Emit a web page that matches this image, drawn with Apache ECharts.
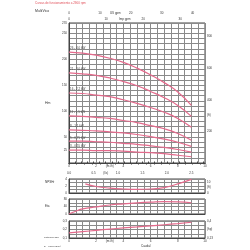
<!DOCTYPE html>
<html><head><meta charset="utf-8">
<script src="https://cdn.jsdelivr.net/npm/echarts@6/dist/echarts.min.js"></script>
<style>html,body{margin:0;padding:0;background:#fff}#c{width:250px;height:250px}</style>
</head><body><div id="c"></div>
<script>
// ---- data ----
const flowQ = [0, 1, 2, 3, 4, 5, 6, 7, 8, 9];
const curveNames = ['26 - 4,0 kW', '21 - 3,0 kW', '16 - 2,2 kW', '11 - 1,5 kW', '8 - 1,1 kW', '5 - 0,75 kW', '3 - 0,55 kW'];
const headC1 = [214, 212, 208, 202, 194, 183, 170, 155, 137, 111];
const headC2 = [174, 172, 169, 164, 157, 149, 138, 126, 111, 90];
const headC3 = [135, 134, 131, 128, 122, 115, 107, 98, 86, 69];
const headC4 = [91, 90, 88, 86, 82, 78, 72, 66, 57, 44];
const headC5 = [64, 63, 62, 60, 58, 55, 51, 46, 40, 32];
const headC6 = [42, 42, 41, 40, 38, 36, 33, 30, 26, 21];
const headC7 = [25, 25, 24, 24, 23, 21, 20, 18, 15, 12];
const npshQ = [1.2, 2, 3, 4, 5, 6, 7, 8, 9];
const npshVals = [2.6, 1.85, 1.4, 1.15, 1.05, 1.15, 1.55, 2.6, 3.9];
const etaQ = [0, 0.5, 1, 2, 3, 4, 5, 6, 7, 8, 9];
const etaVals = [0, 15, 27, 38, 48, 54, 59, 63, 66, 65, 60];
const powerQ = [0, 1, 2, 3, 4, 5, 6, 7, 8, 9];
const powerVals = [0.16, 0.175, 0.19, 0.205, 0.218, 0.23, 0.243, 0.256, 0.27, 0.285];
const headTicks = [25, 50, 100, 150, 200, 250, 270];
const ftTicks = [200, 400, 600, 800];
const flowTicks = [0, 2, 4, 6, 8, 10];
const lsTicks = [0, 0.5, 1, 1.5, 2, 2.5];
const usTicks = [0, 10, 20, 30, 40];
const impTicks = [0, 10, 20, 30];

const curves = [headC1, headC2, headC3, headC4, headC5, headC6, headC7];
const near = (v, arr) => arr.some(a => Math.abs(a - v) < 1e-6);
const GRID = '#8a8a8a', AX = '#444', TXT = '#333', CURVE = '#e46a8c';
const fs = 3;

const chart = echarts.init(document.getElementById('c'), null, {renderer: 'canvas'});
const lbl = (o) => Object.assign({fontSize: fs, color: TXT, fontFamily: 'Liberation Sans'}, o);

const xBase = (gi, extra) => Object.assign({
  type: 'value', gridIndex: gi, min: 0, max: 10, interval: 0.5,
  axisLine: {show: true, lineStyle: {color: AX, width: 1}},
  axisTick: {show: false},
  axisLabel: {show: false},
  splitLine: {show: true, lineStyle: {color: GRID, width: 1}}
}, extra);

const option = {
  animation: false,
  grid: [
    {left: 69, top: 23, width: 136, height: 140, show: true, borderColor: AX, borderWidth: 1},
    {left: 69, top: 179, width: 136, height: 14, show: true, borderColor: AX, borderWidth: 1},
    {left: 69, top: 199, width: 136, height: 15, show: true, borderColor: AX, borderWidth: 1},
    {left: 69, top: 221, width: 136, height: 17, show: true, borderColor: AX, borderWidth: 1}
  ],
  xAxis: [
    xBase(0, {position: 'bottom', axisLabel: lbl({show: true, margin: 2, showMaxLabel: true,
      formatter: v => near(v, flowTicks) ? String(v) : (Math.abs(v - 3) < 1e-6 ? '(m³/h)' : '')})}),
    {type: 'value', gridIndex: 0, position: 'bottom', offset: 7, min: 0, max: 10 / 3.6, interval: 0.125,
      axisLine: {show: true, lineStyle: {color: AX}}, axisTick: {show: true, length: 1.5, inside: true, lineStyle: {color: AX}},
      splitLine: {show: false},
      axisLabel: lbl({margin: 2, showMaxLabel: false,
        formatter: v => near(v, lsTicks) ? v.toFixed(1) : (Math.abs(v - 0.75) < 1e-6 ? '(l/s)' : '')})},
    {type: 'value', gridIndex: 0, position: 'top', offset: 7, min: 0, max: 10 * 4.4029, interval: 2.5,
      axisLine: {show: true, lineStyle: {color: AX}}, axisTick: {show: true, length: 1.5, inside: true, lineStyle: {color: AX}},
      splitLine: {show: false},
      axisLabel: lbl({margin: 1, showMaxLabel: false,
        formatter: v => near(v, usTicks) ? String(v) : (Math.abs(v - 15) < 1e-6 ? 'US gpm' : '')})},
    {type: 'value', gridIndex: 0, position: 'top', offset: 7, min: 0, max: 10 * 3.6662, interval: 2.5,
      axisLine: {show: false}, axisTick: {show: false}, splitLine: {show: false},
      axisLabel: lbl({inside: true, margin: 2, showMaxLabel: false,
        formatter: v => near(v, impTicks) ? String(v) : (Math.abs(v - 15) < 1e-6 ? 'Imp gpm' : '')})},
    xBase(1),
    xBase(2),
    xBase(3, {position: 'bottom', axisLabel: lbl({show: true, margin: 2, showMaxLabel: true,
      formatter: v => near(v, flowTicks) ? String(v) : (Math.abs(v - 3) < 1e-6 ? '(m³/h)' : '')})})
  ],
  yAxis: [
    {type: 'value', gridIndex: 0, min: 0, max: 270, interval: 10,
      axisLine: {show: true, lineStyle: {color: AX}}, axisTick: {show: false}, axisLabel: {show: false},
      splitLine: {show: true, lineStyle: {color: GRID, width: 1}}},
    {type: 'value', gridIndex: 0, min: 0, max: 270, interval: 5, position: 'left',
      axisLine: {show: false}, axisTick: {show: false}, splitLine: {show: false},
      axisLabel: lbl({margin: 2, showMaxLabel: true, formatter: v => near(v, headTicks) ? String(v) : ''})},
    {type: 'value', gridIndex: 0, min: 0, max: 270 * 3.28084, interval: 50, position: 'right',
      axisLine: {show: false}, axisTick: {show: false}, splitLine: {show: false},
      axisLabel: lbl({margin: 2, showMaxLabel: false,
        formatter: v => near(v, ftTicks) ? String(v) : (Math.abs(v - 300) < 1e-6 ? '(ft)' : '')})},
    {type: 'value', gridIndex: 1, min: 0, max: 4, interval: 1,
      axisLine: {show: true, lineStyle: {color: AX}}, axisTick: {show: false},
      splitLine: {show: true, lineStyle: {color: GRID}},
      axisLabel: lbl({margin: 2, formatter: v => (v % 2 === 0) ? String(v) : ''})},
    {type: 'value', gridIndex: 1, min: 0, max: 4 * 3.28084, interval: 5, position: 'right',
      axisLine: {show: false}, axisTick: {show: false}, splitLine: {show: false},
      axisLabel: lbl({margin: 2, showMaxLabel: false, formatter: v => v === 5 ? '(ft)' : (v === 0 || v === 10 ? String(v) : '')})},
    {type: 'value', gridIndex: 2, min: 0, max: 80, interval: 20,
      axisLine: {show: true, lineStyle: {color: AX}}, axisTick: {show: false},
      splitLine: {show: true, lineStyle: {color: GRID}},
      axisLabel: lbl({margin: 2, formatter: v => (v % 40 === 0) ? String(v) : ''})},
    {type: 'value', gridIndex: 3, min: 0.1, max: 0.3, interval: 0.05,
      axisLine: {show: true, lineStyle: {color: AX}}, axisTick: {show: false},
      splitLine: {show: true, lineStyle: {color: GRID}},
      axisLabel: lbl({margin: 2, formatter: v => near(v, [0.1, 0.2, 0.3]) ? v.toFixed(1).replace('.', ',') : ''})},
    {type: 'value', gridIndex: 3, min: 0.134, max: 0.402, interval: 0.134, position: 'right',
      axisLine: {show: false}, axisTick: {show: false}, splitLine: {show: false},
      axisLabel: lbl({margin: 2, formatter: v => Math.abs(v - 0.402) < 1e-3 ? '0,4' : (Math.abs(v - 0.268) < 1e-3 ? '(hp)' : '0,13')})}
  ],
  series: curves.map((arr, i) => ({
    type: 'line', xAxisIndex: 0, yAxisIndex: 0, smooth: true, symbol: 'none',
    lineStyle: {color: CURVE, width: 1.2},
    data: flowQ.map((q, k) => [q, arr[k]]),
    markPoint: {symbol: 'circle', symbolSize: 0, silent: true,
      label: lbl({show: true, position: [1, -5], color: '#444', formatter: curveNames[i]}),
      data: [{coord: [flowQ[0], arr[0]]}]}
  })).concat([
    {type: 'line', xAxisIndex: 4, yAxisIndex: 3, smooth: true, symbol: 'none',
      lineStyle: {color: CURVE, width: 1.2}, data: npshQ.map((q, k) => [q, npshVals[k]])},
    {type: 'line', xAxisIndex: 5, yAxisIndex: 5, smooth: true, symbol: 'none',
      lineStyle: {color: CURVE, width: 1.2}, data: etaQ.map((q, k) => [q, etaVals[k]])},
    {type: 'line', xAxisIndex: 6, yAxisIndex: 6, smooth: true, symbol: 'none',
      lineStyle: {color: CURVE, width: 1.2}, data: powerQ.map((q, k) => [q, powerVals[k]])}
  ]),
  graphic: [
    {type: 'text', left: 35, top: 2, style: {text: 'Curvas de funcionamiento a 2900 rpm', fontSize: 3, fill: '#e0505a', fontFamily: 'Liberation Sans'}},
    {type: 'text', left: 35, top: 9, style: {text: 'MultiVico', fontSize: 3.5, fill: '#333', fontFamily: 'Liberation Sans'}},
    {type: 'text', left: 45, top: 101, style: {text: 'Hm', fontSize: 3.5, fill: '#333', fontFamily: 'Liberation Sans'}},
    {type: 'text', left: 45, top: 181, style: {text: 'NPSHr', fontSize: 3, fill: '#333', fontFamily: 'Liberation Sans'}},
    {type: 'text', left: 45, top: 205, style: {text: 'Eta', fontSize: 3, fill: '#333', fontFamily: 'Liberation Sans'}},
    {type: 'text', left: 44, top: 236, style: {text: 'Potencia abs.', fontSize: 2.5, fill: '#333', fontFamily: 'Liberation Sans'}},
    {type: 'text', left: 44, top: 245, style: {text: 'ρ = 1000 kg/m³', fontSize: 2.5, fill: '#333', fontFamily: 'Liberation Sans'}},
    {type: 'text', left: 141, top: 245, style: {text: 'Caudal', fontSize: 3, fill: '#333', fontFamily: 'Liberation Sans'}}
  ]
};
chart.setOption(option);
</script></body></html>
